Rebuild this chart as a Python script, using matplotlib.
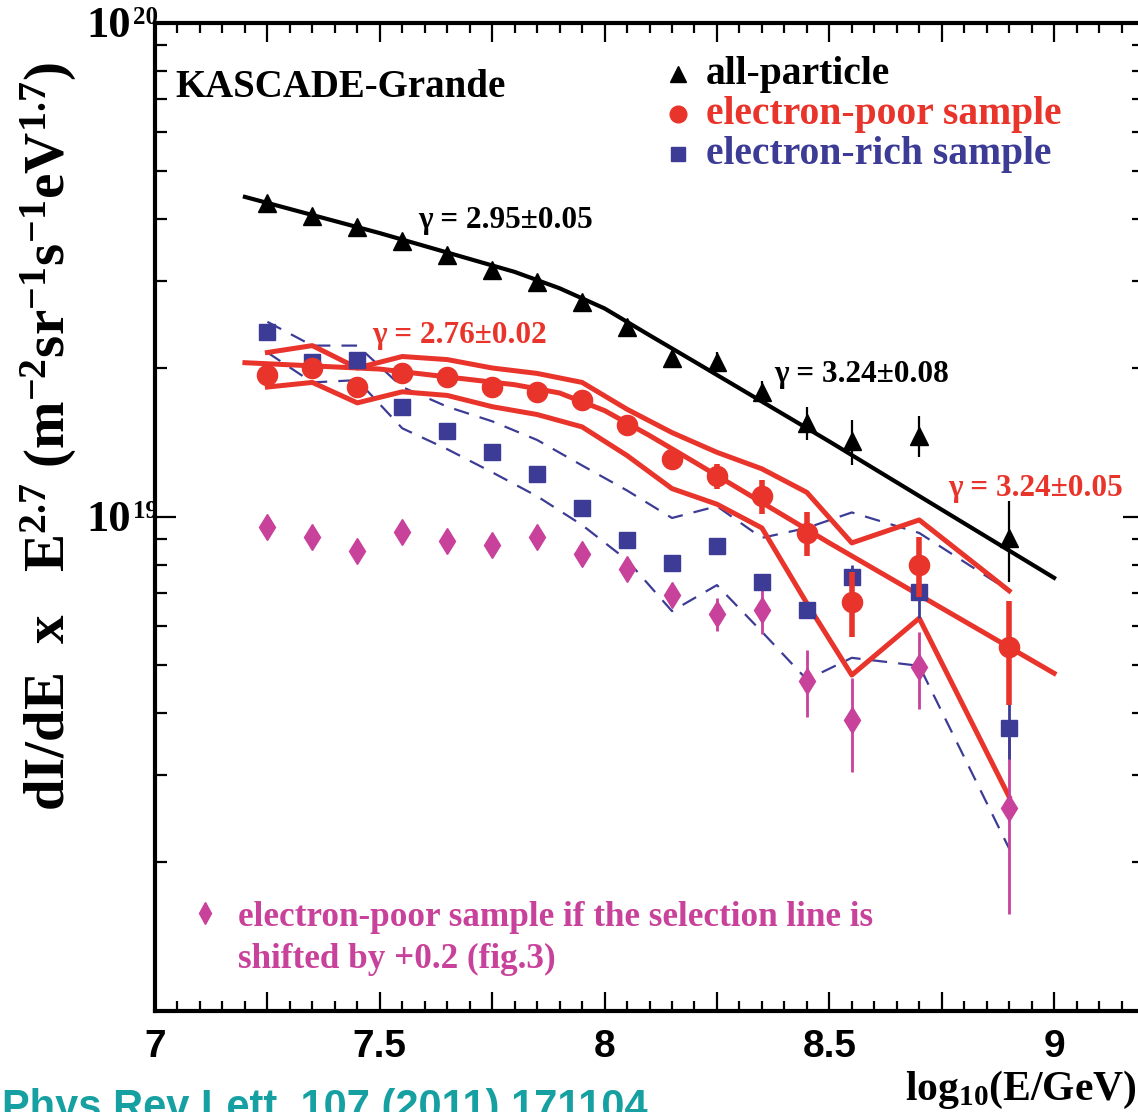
import matplotlib
matplotlib.use("Agg")
import matplotlib.pyplot as plt
from matplotlib.ticker import MultipleLocator, FixedLocator, FuncFormatter, NullFormatter, LogLocator

plt.rcParams['mathtext.fontset'] = 'custom'
plt.rcParams['mathtext.rm'] = 'Liberation Serif:bold'
plt.rcParams['mathtext.it'] = 'Liberation Serif:bold'
plt.rcParams['mathtext.bf'] = 'Liberation Serif:bold'

# ---------------- data ----------------
log_e = [7.25, 7.35, 7.45, 7.55, 7.65, 7.75, 7.85, 7.95,
         8.05, 8.15, 8.25, 8.35, 8.45, 8.55, 8.70, 8.90]

all_particle = [4.32e19, 4.06e19, 3.86e19, 3.61e19, 3.39e19, 3.16e19, 2.99e19, 2.72e19,
                2.42e19, 2.10e19, 2.06e19, 1.79e19, 1.55e19, 1.42e19, 1.46e19, 9.06e18]
all_particle_err = [0, 0, 0, 0, 0, 0, 0, 0,
                    0.02e19, 0.03e19, 0.09e19, 0.09e19, 0.12e19, 0.15e19, 0.14e19, 0.17e19]

e_poor = [1.94e19, 2.00e19, 1.83e19, 1.95e19, 1.92e19, 1.83e19, 1.79e19, 1.72e19,
          1.53e19, 1.31e19, 1.21e19, 1.10e19, 9.27e18, 6.72e18, 7.98e18, 5.45e18]
e_poor_err = [0, 0, 0, 0, 0, 0, 0, 0,
              0.02e19, 0.03e19, 0.07e19, 0.085e19, 0.095e19, 0.10e19, 0.11e19, 0.13e19]
e_poor_sys_hi = [2.15e19, 2.22e19, 2.00e19, 2.11e19, 2.08e19, 2.00e19, 1.95e19, 1.87e19,
                 1.65e19, 1.48e19, 1.35e19, 1.25e19, 1.12e19, 8.85e18, 9.85e18, 7.08e18]
e_poor_sys_lo = [1.83e19, 1.87e19, 1.70e19, 1.79e19, 1.76e19, 1.67e19, 1.61e19, 1.52e19,
                 1.33e19, 1.14e19, 1.06e19, 9.49e18, 6.68e18, 4.78e18, 6.23e18, 2.71e18]

e_rich = [2.36e19, 2.06e19, 2.08e19, 1.67e19, 1.49e19, 1.35e19, 1.22e19, 1.04e19,
          8.98e18, 8.07e18, 8.74e18, 7.38e18, 6.48e18, 7.55e18, 7.04e18, 3.73e18]
e_rich_err = [0, 0, 0, 0, 0, 0, 0, 0,
              0, 0.15e18, 0.2e18, 0.2e18, 0.25e18, 0.45e18, 0.8e18, 0.5e18]
e_rich_sys_hi = [2.48e19, 2.22e19, 2.22e19, 1.83e19, 1.67e19, 1.56e19, 1.43e19, 1.27e19,
                 1.13e19, 9.94e18, 1.05e19, 9.06e18, 9.49e18, 1.02e19, 9.27e18, 7.08e18]
e_rich_sys_lo = [2.15e19, 1.87e19, 1.89e19, 1.51e19, 1.37e19, 1.23e19, 1.10e19, 9.62e18,
                 8.17e18, 6.44e18, 7.27e18, 5.85e18, 4.68e18, 5.18e18, 4.99e18, 2.13e18]

e_poor_shifted = [9.53e18, 9.10e18, 8.52e18, 9.30e18, 8.93e18, 8.77e18, 9.10e18, 8.41e18,
                  7.84e18, 6.95e18, 6.36e18, 6.48e18, 4.66e18, 3.88e18, 4.97e18, 2.57e18]
e_poor_shifted_err = [0, 0, 0, 0, 0, 0, 0, 0.15e18,
                      0.3e18, 0.4e18, 0.5e18, 0.7e18, 0.72e18, 0.84e18, 0.88e18, 1.0e18]

fit_x = [7.2, 7.5, 7.8, 7.9, 8.0, 8.1, 8.2, 8.5, 9.0]
all_fit = [4.44e19, 3.75e19, 3.13e19, 2.90e19, 2.64e19, 2.33e19, 2.06e19, 1.42e19, 7.52e18]
poor_fit = [2.05e19, 1.99e19, 1.85e19, 1.78e19, 1.64e19, 1.46e19, 1.29e19, 8.85e18, 4.82e18]

legend_labels = ["all-particle", "electron-poor sample", "electron-rich sample"]
gamma_labels = ["\u03b3 = 2.95\u00b10.05", "\u03b3 = 2.76\u00b10.02",
                "\u03b3 = 3.24\u00b10.08", "\u03b3 = 3.24\u00b10.05"]
x_tick_values = [7, 7.5, 8, 8.5, 9]

# ---------------- style ----------------
RED = '#e8342b'
BLUE = '#3c3c96'
MAGENTA = '#c8419a'
TEAL = '#16a0a2'
SERIF = ['Liberation Serif', 'DejaVu Serif']
SANS = ['Liberation Sans', 'DejaVu Sans']

W, H, DPI = 1138, 1112, 100
fig = plt.figure(figsize=(W / DPI, H / DPI), dpi=DPI)
fig.patch.set_facecolor('white')


def fx(px):
    return px / W


def fy(py):
    return 1 - py / H


ax_left, ax_right, ax_top, ax_bottom = 155, 1144, 22.7, 1010.7
ax = fig.add_axes([fx(ax_left), fy(ax_bottom), (ax_right - ax_left) / W, (ax_bottom - ax_top) / H])
ax.set_yscale('log')
ax.set_xlim(7, 9.2)
ax.set_ylim(1e18, 1e20)

for s in ax.spines.values():
    s.set_linewidth(3.0)

ax.xaxis.set_major_locator(MultipleLocator(0.25))
ax.xaxis.set_minor_locator(MultipleLocator(0.05))
ax.xaxis.set_major_formatter(FuncFormatter(
    lambda v, p: ('%g' % v) if any(abs(v - t) < 1e-6 for t in x_tick_values) else ''))
ax.yaxis.set_major_locator(FixedLocator([1e18, 1e19, 1e20]))
ax.yaxis.set_minor_locator(LogLocator(base=10, subs=[2, 3, 4, 5, 6, 7, 8, 9]))
ax.yaxis.set_major_formatter(NullFormatter())
ax.yaxis.set_minor_formatter(NullFormatter())
ax.tick_params(which='both', direction='in', top=True, right=True, width=1.6, color='black')
ax.tick_params(axis='x', which='major', length=14, pad=13)
ax.tick_params(axis='x', which='minor', length=7)
ax.tick_params(axis='y', which='major', length=15)
ax.tick_params(axis='y', which='minor', length=8.5)
for lab in ax.get_xticklabels():
    lab.set_fontfamily(SANS)
    lab.set_fontweight('bold')
    lab.set_fontsize(28)

# systematic bands and fits
ax.plot(log_e, e_rich_sys_hi, color=BLUE, lw=1.6, dashes=(7, 5), zorder=2)
ax.plot(log_e, e_rich_sys_lo, color=BLUE, lw=1.6, dashes=(7, 5), zorder=2)
ax.plot(log_e, e_poor_sys_hi, color=RED, lw=3.6, zorder=3)
ax.plot(log_e, e_poor_sys_lo, color=RED, lw=3.6, zorder=3)
ax.plot(fit_x, poor_fit, color=RED, lw=3.6, zorder=3)
ax.plot(fit_x, all_fit, color='black', lw=3.0, zorder=3)

# data points
ax.errorbar(log_e, e_poor_shifted, yerr=e_poor_shifted_err, fmt='d', color=MAGENTA,
            ms=13, elinewidth=2.0, capsize=0, zorder=4)
ax.errorbar(log_e, e_rich, yerr=e_rich_err, fmt='s', color=BLUE,
            ms=11, elinewidth=2.0, capsize=0, zorder=5)
ax.errorbar(log_e, e_poor, yerr=e_poor_err, fmt='o', color=RED,
            ms=14.5, elinewidth=4.0, capsize=0, zorder=6)
ax.errorbar(log_e, all_particle, yerr=all_particle_err, fmt='^', color='black',
            ms=13.5, elinewidth=1.6, capsize=0, zorder=6)

# legend (drawn manually, like the original)
leg_markers = ['^', 'o', 's']
leg_colors = ['black', RED, BLUE]
leg_ms = [12, 12, 10]
leg_y = [74, 114, 154]
leg_base = [84, 124, 164]
for m, c, ms, yc, yb, lab in zip(leg_markers, leg_colors, leg_ms, leg_y, leg_base, legend_labels):
    fig.lines.append(plt.Line2D([fx(678)], [fy(yc)], marker=m, color=c, ms=ms,
                                transform=fig.transFigure, figure=fig))
    fig.text(fx(706), fy(yb), lab, color=c, fontsize=28.5, fontweight='bold',
             family=SERIF, va='baseline', ha='left')

fig.lines.append(plt.Line2D([fx(205)], [fy(913)], marker='d', color=MAGENTA, ms=11,
                            transform=fig.transFigure, figure=fig))
fig.text(fx(238), fy(926), "electron-poor sample if the selection line is", color=MAGENTA,
         fontsize=25.3, fontweight='bold', family=SERIF, va='baseline', ha='left')
fig.text(fx(238), fy(968), "shifted by +0.2 (fig.3)", color=MAGENTA,
         fontsize=25.3, fontweight='bold', family=SERIF, va='baseline', ha='left')

fig.text(fx(175), fy(97), "KASCADE-Grande", color='black', fontsize=28, fontweight='bold',
         family=SERIF, va='baseline', ha='left')

# slope annotations
gamma_pos = [(418, 228, 'black'), (372, 343, RED), (774, 382, 'black'), (948, 496, RED)]
for (px, py, c), lab in zip(gamma_pos, gamma_labels):
    fig.text(fx(px), fy(py), lab, color=c, fontsize=22.5, fontweight='bold',
             family=SERIF, va='baseline', ha='left')

# y tick labels (10^19, 10^20)
for base_y, sup in [(37, '20'), (531, '19')]:
    fig.text(fx(131), fy(base_y), '10', fontsize=32, fontweight='bold', family=SERIF,
             ha='right', va='baseline')
    fig.text(fx(133), fy(base_y - 13), sup, fontsize=18, fontweight='bold', family=SERIF,
             ha='left', va='baseline')

# axis titles
fig.text(fx(49), fy(436),
         r'dI/dE  x   E$^{2.7}$ (m$^{-2}$sr$^{-1}$s$^{-1}$eV$^{1.7}$)',
         rotation=90, fontsize=41, fontweight='bold', family=SERIF,
         ha='center', va='center')
fig.text(fx(905), fy(1100), r'log$_{10}$(E/GeV)', fontsize=30, fontweight='bold',
         family=SERIF, ha='left', va='baseline')

# citation
fig.text(fx(2), fy(1119), "Phys Rev Lett. 107 (2011) 171104", color=TEAL, fontsize=30,
         fontweight='bold', family=SANS, ha='left', va='baseline')

fig.savefig('out.png', dpi=DPI)
